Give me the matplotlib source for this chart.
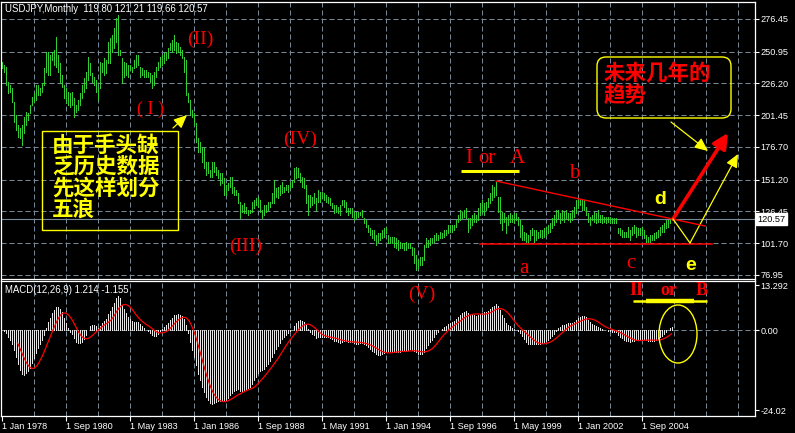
import numpy as np
import matplotlib
matplotlib.use('Agg')
import matplotlib.pyplot as plt
from matplotlib.patches import Rectangle, FancyBboxPatch, Ellipse
from matplotlib.lines import Line2D
from matplotlib.transforms import IdentityTransform

plt.rcParams['font.family'] = ['Liberation Sans', 'DejaVu Sans']

# ---------------- data (monthly bars, index 0 = Jan 1978) ----------------
high = [
    243.2, 240.6, 239.3, 227.6, 225.0, 222.4, 212.0, 201.6, 193.8, 191.2,
    193.8, 200.3, 204.2, 202.9, 209.4, 215.9, 218.5, 225.0, 225.0, 222.4,
    226.3, 238.0, 251.0, 251.0, 248.4, 251.0, 252.3, 262.7, 248.4, 241.9,
    232.8, 225.0, 222.4, 219.8, 218.5, 219.8, 214.6, 209.4, 213.3, 218.5,
    225.0, 230.2, 235.4, 247.1, 241.9, 234.1, 231.5, 228.9, 223.7, 243.2,
    241.9, 245.8, 244.5, 258.8, 261.4, 264.0, 269.2, 277.0, 279.6, 252.3,
    245.8, 243.2, 241.9, 240.6, 240.6, 239.3, 244.5, 248.4, 248.4, 239.3,
    238.0, 236.7, 236.7, 235.4, 234.1, 232.8, 235.4, 239.3, 243.2, 247.1,
    248.4, 249.7, 251.0, 253.6, 257.5, 260.1, 264.0, 258.8, 257.5, 254.9,
    252.3, 247.1, 244.5, 218.5, 213.3, 205.5, 202.9, 195.1, 183.4, 180.8,
    176.9, 175.6, 165.2, 165.2, 158.7, 165.2, 165.2, 161.3, 158.7, 156.1,
    156.1, 152.2, 147.0, 148.3, 153.5, 153.5, 145.7, 143.1, 140.5, 134.0,
    131.4, 132.7, 130.1, 127.5, 127.5, 134.0, 135.3, 136.6, 137.9, 135.3,
    127.5, 131.4, 131.4, 134.0, 134.0, 140.5, 150.9, 144.4, 145.7, 147.0,
    149.6, 145.7, 147.0, 147.0, 149.6, 150.9, 160.0, 161.3, 160.0, 156.1,
    153.5, 152.2, 147.0, 139.2, 139.2, 137.9, 140.5, 136.6, 143.1, 141.8,
    141.8, 140.5, 139.2, 137.9, 136.6, 132.7, 131.4, 131.4, 130.1, 131.4,
    135.3, 135.3, 134.0, 128.8, 128.8, 128.8, 126.2, 126.2, 126.2, 126.2,
    127.5, 121.0, 119.7, 115.8, 113.2, 111.9, 111.9, 108.0, 109.3, 109.3,
    111.9, 113.2, 114.5, 108.0, 106.7, 106.7, 106.7, 105.4, 104.1, 102.8,
    101.5, 101.5, 102.8, 101.5, 101.5, 98.9, 97.6, 92.4, 88.5, 91.1,
    91.1, 100.2, 105.4, 104.1, 105.4, 105.4, 108.0, 109.3, 108.0, 110.6,
    109.3, 111.9, 111.9, 115.8, 115.8, 115.9, 115.9, 119.8, 123.7, 127.6,
    126.3, 127.6, 128.9, 121.1, 121.1, 123.7, 125.0, 123.7, 128.9, 132.8,
    135.4, 132.8, 134.1, 136.7, 140.6, 147.1, 145.8, 149.7, 138.0, 138.0,
    126.3, 125.0, 122.4, 123.7, 125.0, 123.7, 125.0, 125.0, 122.4, 119.8,
    115.9, 110.7, 109.4, 108.1, 112.0, 113.3, 112.0, 112.0, 110.7, 112.0,
    112.0, 113.3, 114.6, 115.9, 117.2, 121.1, 123.7, 127.6, 127.6, 125.0,
    127.6, 126.3, 127.6, 125.0, 125.0, 127.6, 130.2, 135.4, 136.7, 135.4,
    135.4, 135.4, 130.2, 125.0, 122.4, 123.7, 126.3, 125.0, 127.6, 123.7,
    123.7, 122.4, 122.4, 122.4, 122.4, 121.1, 121.1, 121.1, 113.3, 113.3,
    112.0, 110.7, 110.7, 114.6, 112.0, 114.6, 115.9, 114.6, 113.3, 113.3,
    114.6, 112.0, 108.1, 106.8, 108.1, 108.1, 109.4, 110.7, 112.0, 114.6,
    115.9, 117.2, 119.8, 119.8, 121.1, 121.21,
]
low = [
    238.0, 235.4, 225.0, 218.5, 219.8, 212.0, 196.4, 189.9, 184.7, 183.4,
    178.2, 187.3, 193.8, 197.7, 202.9, 209.4, 212.0, 213.3, 217.2, 217.2,
    219.8, 225.0, 235.4, 232.8, 232.8, 244.5, 240.6, 239.3, 235.4, 227.6,
    223.7, 214.6, 210.7, 209.4, 208.1, 209.4, 200.3, 204.2, 205.5, 209.4,
    214.6, 219.8, 222.4, 228.9, 232.8, 227.6, 225.0, 219.8, 213.3, 222.4,
    235.4, 232.8, 234.1, 241.9, 241.9, 251.0, 253.6, 258.8, 248.4, 248.4,
    226.3, 231.5, 232.8, 231.5, 236.7, 235.4, 238.0, 239.3, 240.6, 231.5,
    232.8, 231.5, 231.5, 231.5, 227.6, 222.4, 225.0, 231.5, 236.7, 239.3,
    240.6, 241.9, 244.5, 245.8, 252.3, 251.0, 252.3, 249.7, 251.0, 248.4,
    245.8, 235.4, 217.2, 212.0, 201.6, 200.3, 193.8, 180.8, 173.0, 173.0,
    165.2, 160.0, 154.8, 156.1, 153.5, 153.5, 157.4, 154.8, 152.2, 147.0,
    148.3, 139.2, 139.2, 143.1, 145.7, 140.5, 139.2, 139.2, 132.7, 121.0,
    126.2, 124.9, 124.9, 123.6, 124.9, 126.2, 128.8, 131.4, 130.1, 126.2,
    121.0, 123.6, 126.2, 127.5, 130.1, 132.7, 132.7, 137.9, 136.6, 139.2,
    140.5, 141.8, 143.1, 141.8, 144.4, 145.7, 149.6, 152.2, 153.5, 149.6,
    145.7, 144.4, 132.7, 123.6, 130.1, 131.4, 132.7, 127.5, 134.0, 134.0,
    136.6, 135.3, 134.0, 132.7, 131.4, 128.8, 124.9, 126.2, 124.9, 123.6,
    131.4, 130.1, 126.2, 123.6, 124.9, 122.3, 119.7, 121.0, 122.3, 123.6,
    122.3, 117.1, 114.5, 110.6, 108.0, 105.4, 104.1, 100.2, 102.8, 104.1,
    105.4, 106.7, 109.3, 101.5, 101.5, 101.5, 98.9, 97.6, 96.3, 97.6,
    97.6, 96.3, 96.3, 97.6, 97.6, 92.4, 85.9, 80.7, 82.0, 84.6,
    84.6, 88.5, 98.9, 98.9, 100.2, 101.5, 102.8, 104.1, 104.1, 105.4,
    105.4, 106.7, 108.0, 109.3, 110.6, 110.7, 112.0, 114.6, 118.5, 119.8,
    121.1, 122.4, 121.1, 110.7, 113.3, 115.9, 118.5, 118.5, 119.8, 123.7,
    126.3, 123.7, 127.6, 130.2, 132.8, 135.4, 138.0, 139.3, 126.3, 117.2,
    112.0, 118.5, 109.4, 115.9, 118.5, 118.5, 117.2, 119.8, 115.9, 106.8,
    104.2, 104.2, 102.9, 101.6, 104.2, 108.1, 102.9, 104.2, 105.5, 106.8,
    105.5, 106.8, 108.1, 109.4, 110.7, 113.3, 115.9, 118.5, 121.1, 117.2,
    119.8, 118.5, 121.1, 119.8, 118.5, 119.8, 122.4, 125.0, 128.9, 131.5,
    127.6, 127.6, 123.7, 118.5, 115.9, 119.8, 118.5, 117.2, 118.5, 118.5,
    117.2, 118.5, 117.2, 118.5, 117.2, 117.2, 117.2, 117.2, 109.4, 108.1,
    106.8, 106.8, 106.8, 106.8, 104.2, 108.1, 109.4, 106.8, 108.1, 108.1,
    108.1, 105.5, 102.9, 102.9, 102.9, 104.2, 104.2, 105.5, 106.8, 108.1,
    110.7, 110.7, 113.3, 114.6, 117.2, 119.66,
]
last_close = 120.57

symbol_title = 'USDJPY,Monthly  119.80 121.21 119.66 120.57'
macd_title = 'MACD(12,26,9) 1.214 -1.155'
price_levels = [276.45, 250.95, 226.20, 201.45, 176.70, 151.20, 126.45, 101.70, 76.95]
macd_levels = [13.292, 0.0, -24.02]
macd_labels = ['13.292', '0.00', '-24.02']
date_labels = ['1 Jan 1978', '1 Sep 1980', '1 May 1983', '1 Jan 1986', '1 Sep 1988',
               '1 May 1991', '1 Jan 1994', '1 Sep 1996', '1 May 1999', '1 Jan 2002',
               '1 Sep 2004']
date_months = [0, 32, 64, 96, 128, 160, 192, 224, 256, 288, 320]

note_left = ['由于手头缺', '乏历史数据', '先这样划分', '五浪']
note_right = ['未来几年的', '趋势']

# ---------------- indicator (MACD 12,26,9 on bar prices) ----------------
n = min(len(high), len(low))
hi = np.array(high[:n]); lo = np.array(low[:n])
idx = np.arange(n)
price = (hi + lo) / 2.0
price[-1] = last_close

def ema(x, p):
    a = 2.0 / (p + 1)
    out = np.empty_like(x)
    out[0] = x[0]
    for t in range(1, len(x)):
        out[t] = out[t - 1] + a * (x[t] - out[t - 1])
    return out

macd = ema(price, 12) - ema(price, 26)
sig = np.full(n, np.nan)
for t in range(8, n):
    sig[t] = macd[t - 8:t + 1].mean()

# ---------------- figure ----------------
W, H = 795, 433
GRID = '#778899'
fig = plt.figure(figsize=(W / 100, H / 100), dpi=100, facecolor='black')

L_PX, R_PX = 1, 755
M_TOP, M_BOT = 2, 278.5
S_TOP, S_BOT = 280.5, 415.7

def rect(top, bot):
    return [L_PX / W, 1 - bot / H, (R_PX - L_PX) / W, (bot - top) / H]

ax1 = fig.add_axes(rect(M_TOP, M_BOT))
ax2 = fig.add_axes(rect(S_TOP, S_BOT))

PPU = 24.94 / 32.0          # price per pixel
ax1.set_ylim(276.45 - (M_BOT - 19) * PPU, 276.45 + (19 - M_TOP) * PPU)
VPP = 1 / 3.35              # macd value per pixel
ax2.set_ylim(13.292 - (S_BOT - 285.5) * VPP, 13.292 + (285.5 - S_TOP) * VPP)
for ax in (ax1, ax2):
    ax.set_xlim(-0.25, -0.25 + (R_PX - L_PX) / 2.0)
    ax.set_facecolor('black')
    for s in ax.spines.values():
        s.set_color('white')
        s.set_linewidth(0.9)
    for m in range(16, 370, 16):
        ax.axvline(m, color=GRID, lw=0.72, ls=(0, (5, 3)), zorder=0.5)

for lv in price_levels:
    ax1.axhline(lv, color=GRID, lw=0.72, ls=(0, (5, 3)), zorder=0.5)
ax2.axhline(0, color=GRID, lw=0.72, ls=(0, (5, 3)), zorder=0.5)
ax1.axhline(last_close, color=GRID, lw=0.8, zorder=0.6)

# price bars
ax1.vlines(idx, lo, hi, colors='#32cd32', lw=0.55, antialiased=False, zorder=2)

# MACD
ax2.vlines(idx, 0, macd, colors='#e6e6e6', lw=0.55, antialiased=False, zorder=2)
ax2.plot(idx, sig, color='#ff0000', lw=0.9, zorder=3)

# axes ticks
ax1.yaxis.tick_right()
ax1.set_yticks(price_levels)
ax1.set_yticklabels(['%.2f' % v for v in price_levels])
ax1.tick_params(axis='y', colors='white', labelcolor='white', length=3, width=0.8,
                labelsize=6.6, pad=1.2)
ax1.tick_params(axis='x', bottom=False, labelbottom=False)

ax2.yaxis.tick_right()
ax2.set_yticks(macd_levels)
ax2.set_yticklabels(macd_labels)
ax2.tick_params(axis='y', colors='white', labelcolor='white', length=3, width=0.8,
                labelsize=6.6, pad=1.2)
ax2.set_xticks(date_months)
ax2.set_xticklabels(date_labels)
ax2.tick_params(axis='x', colors='white', labelcolor='white', length=3.5, width=0.8,
                labelsize=6.6, pad=1.2)
for lab in ax2.get_xticklabels():
    lab.set_horizontalalignment('left')

# ---------------- annotations (pixel positions) ----------------
def ptext(x, y, s, **kw):
    return fig.text(x / W, 1 - y / H, s, **kw)

def P(x, y):
    return (x, H - y)

ptext(5, 9.5, symbol_title, color='white', fontsize=6.9, va='center', ha='left')
ptext(5, 290, macd_title, color='white', fontsize=6.9, va='center', ha='left')
ptext(757, 219, '%.2f' % last_close, color='black', fontsize=6.6, va='center', ha='left',
      bbox=dict(facecolor='white', edgecolor='white', pad=1.0), zorder=10)

RED = '#ff0000'
YEL = '#ffff00'
serif = ['Liberation Serif', 'DejaVu Serif']
for x, y, s, fs in [(187, 44, '(II)', 14), (137, 114, '( I )', 13), (229, 251, '(III)', 14),
                    (283, 144, '(IV)', 14), (408, 299, '(V)', 14)]:
    ptext(x, y, s, color=RED, fontsize=fs, family=serif, va='baseline', ha='left')

for x, y, s in [(465, 163, 'I'), (478, 163, 'or'), (510, 163, 'A'),
                (519, 273, 'a'), (569, 178, 'b'), (626, 268, 'c')]:
    ptext(x, y, s, color=RED, fontsize=15, family=serif, va='baseline', ha='left')

for x, y, s in [(629, 295, 'II'), (660, 295, 'or'), (696, 295, 'B')]:
    ptext(x, y, s, color=RED, fontsize=13, family=serif, weight='bold', va='baseline', ha='left')

ptext(654, 204, 'd', color=YEL, fontsize=14, weight='bold', va='baseline', ha='left')
ptext(685, 270, 'e', color=YEL, fontsize=14, weight='bold', va='baseline', ha='left')

cjk = ['Noto Sans CJK SC', 'DejaVu Sans']
for k, line in enumerate(note_left):
    ptext(52, 145 + 21.5 * k, line, color=YEL, fontsize=15.5, family=cjk, weight='bold',
          va='center', ha='left')
for k, line in enumerate(note_right):
    ptext(604, 74 + 21.5 * k, line, color=RED, fontsize=15.5, family=cjk, weight='bold',
          va='center', ha='left')

ID = IdentityTransform()
fig.add_artist(Rectangle(P(42, 230), 136, 99, transform=ID, fill=False, ec=YEL, lw=1))
fig.add_artist(FancyBboxPatch(P(597, 118), 134, 61, boxstyle='round,pad=0,rounding_size=9',
                              transform=ID, fill=False, ec=YEL, lw=1))
fig.add_artist(Ellipse(P(678, 334), 38, 58, transform=ID, fill=False, ec=YEL, lw=1))

def pline(xs, ys, **kw):
    fig.add_artist(Line2D(xs, [H - y for y in ys], transform=ID, **kw))

# triangle
pline([496, 705], [181, 226], color=RED, lw=1.0)
pline([480, 712], [244, 244], color=RED, lw=1.1)
# underline bars
pline([461, 519], [170.5, 170.5], color=YEL, lw=2.2, solid_capstyle='butt')
pline([633, 707], [301, 301], color=YEL, lw=1.8, solid_capstyle='butt')
pline([646, 694], [301, 301], color=YEL, lw=3.2, solid_capstyle='butt')
# yellow zig-zag
pline([673, 690], [219, 243], color=YEL, lw=0.9)

def parrow(x0, y0, x1, y1, color, lw, hl=0.8, hw=0.36, ms=10):
    fig.add_artist(matplotlib.patches.FancyArrowPatch(
        P(x0, y0), P(x1, y1), transform=ID,
        arrowstyle='-|>,head_length=%g,head_width=%g' % (hl, hw),
        mutation_scale=ms, color=color, lw=lw, shrinkA=0, shrinkB=0))

parrow(690, 243, 738, 154, YEL, 0.9)
parrow(673, 219, 728, 133, RED, 2.6, hl=0.9, hw=0.45, ms=10)
parrow(671, 122, 708, 151, YEL, 0.9)
parrow(173, 128, 187, 115, YEL, 0.9)

fig.savefig('out.png', dpi=100, facecolor='black')
